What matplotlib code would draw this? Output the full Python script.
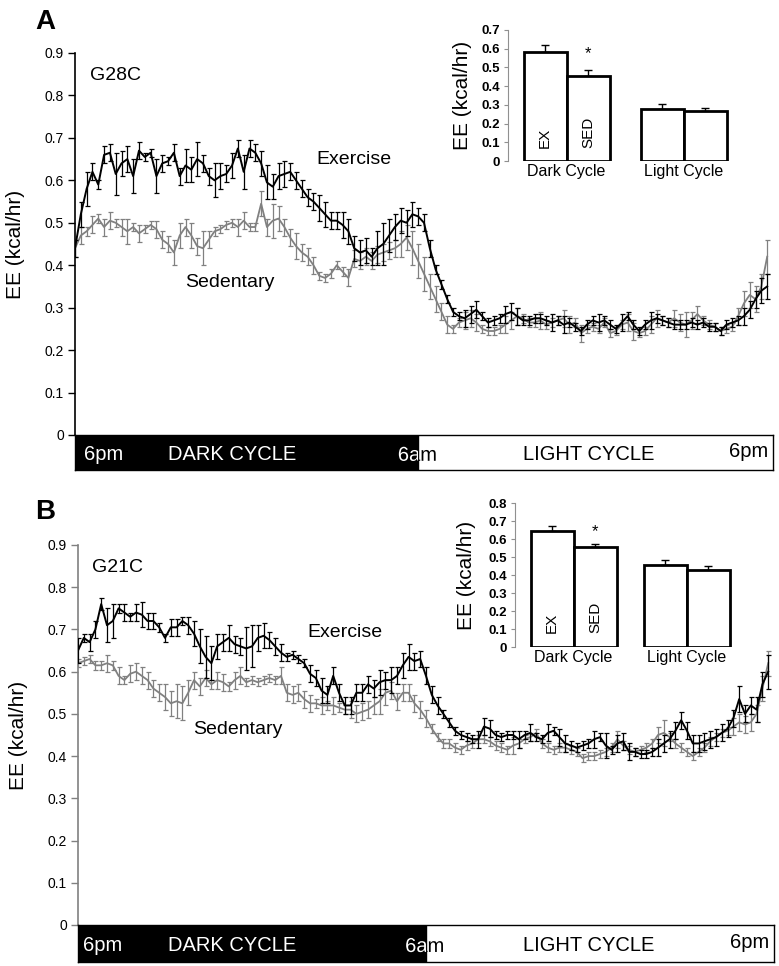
import matplotlib
matplotlib.use("Agg")
import matplotlib.pyplot as plt
from matplotlib.patches import Rectangle
import matplotlib.patheffects as pe

plt.rcParams['font.family'] = ['Liberation Sans', 'DejaVu Sans']

# ---------------- data ----------------
hours = [i * 0.2 for i in range(120)]  # 6pm -> 6pm, 12-min bins

ex_A = [0.44,0.52,0.58,0.62,0.59,0.66,0.665,0.615,0.64,0.65,
        0.61,0.67,0.655,0.665,0.61,0.64,0.645,0.665,0.61,0.635,
        0.625,0.65,0.64,0.61,0.60,0.61,0.615,0.635,0.675,0.62,
        0.675,0.665,0.64,0.595,0.585,0.61,0.615,0.62,0.60,0.58,
        0.56,0.55,0.535,0.52,0.505,0.505,0.495,0.48,0.44,0.43,
        0.435,0.42,0.44,0.45,0.47,0.49,0.505,0.50,0.52,0.515,
        0.50,0.44,0.39,0.355,0.32,0.29,0.28,0.275,0.285,0.295,
        0.28,0.265,0.27,0.275,0.285,0.29,0.28,0.27,0.27,0.275,
        0.275,0.27,0.265,0.27,0.26,0.265,0.255,0.245,0.26,0.27,
        0.265,0.27,0.26,0.25,0.265,0.28,0.26,0.245,0.26,0.27,
        0.275,0.27,0.265,0.26,0.26,0.26,0.265,0.26,0.265,0.255,
        0.255,0.245,0.26,0.265,0.27,0.28,0.295,0.32,0.34,0.35]
ex_A_err = [0.02,0.03,0.04,0.02,0.01,0.02,0.02,0.05,0.03,0.03,
            0.04,0.02,0.01,0.01,0.04,0.02,0.01,0.02,0.02,0.04,
            0.03,0.04,0.02,0.02,0.04,0.03,0.02,0.03,0.02,0.04,
            0.02,0.02,0.03,0.04,0.03,0.03,0.03,0.02,0.02,0.02,
            0.02,0.02,0.03,0.03,0.02,0.02,0.03,0.03,0.03,0.03,
            0.03,0.02,0.04,0.05,0.04,0.03,0.03,0.03,0.03,0.02,
            0.02,0.02,0.01,0.01,0.01,0.01,0.01,0.02,0.02,0.02,
            0.01,0.01,0.01,0.01,0.02,0.02,0.02,0.01,0.01,0.01,
            0.01,0.01,0.02,0.01,0.02,0.01,0.01,0.01,0.01,0.01,
            0.02,0.01,0.01,0.01,0.02,0.01,0.01,0.01,0.01,0.02,
            0.01,0.01,0.01,0.01,0.01,0.01,0.01,0.01,0.01,0.01,
            0.01,0.01,0.01,0.01,0.01,0.02,0.02,0.02,0.03,0.03]
sed_A = [0.44,0.47,0.48,0.495,0.51,0.49,0.505,0.50,0.49,0.48,
         0.49,0.475,0.485,0.495,0.485,0.46,0.45,0.43,0.47,0.49,
         0.47,0.445,0.44,0.46,0.48,0.485,0.495,0.50,0.49,0.505,
         0.49,0.49,0.545,0.49,0.505,0.51,0.49,0.465,0.445,0.43,
         0.42,0.40,0.375,0.37,0.38,0.40,0.385,0.37,0.415,0.41,
         0.42,0.41,0.425,0.43,0.435,0.44,0.45,0.465,0.44,0.41,
         0.38,0.35,0.32,0.29,0.26,0.25,0.265,0.27,0.275,0.265,
         0.25,0.245,0.245,0.25,0.26,0.27,0.28,0.275,0.265,0.265,
         0.27,0.26,0.265,0.27,0.275,0.26,0.265,0.24,0.25,0.255,
         0.25,0.265,0.24,0.245,0.26,0.265,0.245,0.24,0.245,0.26,
         0.275,0.27,0.265,0.275,0.265,0.26,0.27,0.285,0.27,0.26,
         0.255,0.245,0.25,0.255,0.28,0.31,0.33,0.32,0.35,0.42]
sed_A_err = [0.02,0.02,0.01,0.02,0.01,0.02,0.02,0.01,0.02,0.03,
             0.01,0.02,0.01,0.01,0.02,0.02,0.02,0.03,0.03,0.02,
             0.03,0.02,0.04,0.02,0.01,0.01,0.01,0.01,0.02,0.02,
             0.01,0.01,0.03,0.02,0.04,0.03,0.02,0.02,0.03,0.02,
             0.02,0.02,0.01,0.01,0.01,0.01,0.01,0.02,0.02,0.02,
             0.02,0.02,0.02,0.02,0.02,0.02,0.03,0.03,0.04,0.04,
             0.04,0.03,0.03,0.02,0.02,0.01,0.01,0.02,0.02,0.02,
             0.01,0.01,0.01,0.01,0.02,0.02,0.02,0.01,0.01,0.01,
             0.02,0.01,0.01,0.01,0.02,0.02,0.01,0.02,0.01,0.01,
             0.01,0.01,0.01,0.01,0.01,0.02,0.02,0.01,0.01,0.02,
             0.02,0.01,0.01,0.02,0.02,0.03,0.02,0.02,0.01,0.01,
             0.01,0.01,0.01,0.01,0.02,0.03,0.03,0.03,0.03,0.04]

ex_B = [0.65,0.68,0.67,0.70,0.76,0.71,0.72,0.75,0.74,0.73,
        0.74,0.735,0.72,0.72,0.705,0.68,0.705,0.705,0.72,0.71,
        0.69,0.66,0.635,0.62,0.66,0.67,0.68,0.665,0.66,0.655,
        0.66,0.68,0.685,0.675,0.66,0.645,0.635,0.64,0.63,0.62,
        0.595,0.585,0.555,0.545,0.59,0.55,0.52,0.52,0.55,0.55,
        0.57,0.56,0.575,0.58,0.58,0.59,0.615,0.635,0.625,0.63,
        0.59,0.545,0.52,0.50,0.48,0.46,0.45,0.445,0.44,0.44,
        0.47,0.465,0.45,0.445,0.45,0.45,0.44,0.45,0.455,0.445,
        0.44,0.455,0.46,0.445,0.43,0.425,0.42,0.425,0.43,0.44,
        0.445,0.425,0.415,0.43,0.435,0.41,0.41,0.405,0.405,0.41,
        0.42,0.43,0.44,0.46,0.485,0.46,0.43,0.43,0.435,0.44,
        0.445,0.455,0.465,0.49,0.535,0.50,0.52,0.51,0.57,0.60]
ex_B_err = [0.03,0.01,0.02,0.02,0.015,0.04,0.04,0.01,0.02,0.01,
            0.02,0.03,0.02,0.02,0.01,0.01,0.02,0.02,0.01,0.02,
            0.03,0.04,0.05,0.04,0.03,0.02,0.03,0.02,0.02,0.05,
            0.05,0.03,0.03,0.02,0.02,0.02,0.01,0.01,0.01,0.01,
            0.02,0.02,0.03,0.02,0.02,0.02,0.02,0.02,0.02,0.02,
            0.02,0.02,0.03,0.02,0.03,0.02,0.03,0.03,0.02,0.02,
            0.02,0.02,0.02,0.01,0.01,0.01,0.01,0.01,0.01,0.02,
            0.02,0.02,0.01,0.01,0.01,0.01,0.02,0.01,0.02,0.01,
            0.01,0.02,0.01,0.02,0.02,0.01,0.01,0.01,0.01,0.02,
            0.01,0.03,0.01,0.02,0.02,0.02,0.01,0.01,0.01,0.01,
            0.02,0.02,0.02,0.02,0.02,0.02,0.02,0.02,0.02,0.02,
            0.02,0.02,0.02,0.02,0.03,0.02,0.02,0.03,0.03,0.04]
sed_B = [0.62,0.625,0.63,0.615,0.615,0.62,0.615,0.59,0.58,0.595,
         0.60,0.59,0.58,0.56,0.55,0.54,0.525,0.53,0.525,0.55,
         0.58,0.565,0.585,0.57,0.58,0.575,0.565,0.58,0.59,0.575,
         0.58,0.575,0.58,0.585,0.58,0.59,0.55,0.545,0.55,0.535,
         0.525,0.525,0.52,0.52,0.52,0.515,0.51,0.51,0.50,0.505,
         0.51,0.52,0.53,0.55,0.555,0.53,0.55,0.55,0.525,0.51,
         0.49,0.465,0.445,0.43,0.43,0.42,0.415,0.425,0.43,0.44,
         0.44,0.435,0.425,0.42,0.415,0.425,0.43,0.44,0.445,0.455,
         0.43,0.42,0.415,0.42,0.42,0.415,0.41,0.395,0.40,0.40,
         0.405,0.41,0.42,0.44,0.425,0.415,0.41,0.415,0.42,0.43,
         0.45,0.455,0.445,0.43,0.42,0.41,0.40,0.41,0.42,0.435,
         0.445,0.455,0.46,0.47,0.48,0.475,0.48,0.50,0.56,0.62]
sed_B_err = [0.01,0.01,0.01,0.01,0.01,0.02,0.01,0.02,0.01,0.02,
             0.02,0.02,0.02,0.02,0.02,0.03,0.03,0.04,0.04,0.03,
             0.02,0.02,0.02,0.01,0.02,0.02,0.01,0.02,0.02,0.01,
             0.01,0.01,0.01,0.01,0.01,0.02,0.02,0.02,0.02,0.02,
             0.02,0.01,0.02,0.01,0.02,0.01,0.01,0.02,0.02,0.02,
             0.02,0.02,0.03,0.03,0.02,0.02,0.02,0.02,0.02,0.02,
             0.02,0.01,0.01,0.01,0.01,0.01,0.01,0.01,0.01,0.01,
             0.01,0.01,0.01,0.01,0.01,0.02,0.01,0.01,0.01,0.01,
             0.01,0.01,0.01,0.01,0.01,0.01,0.01,0.01,0.01,0.01,
             0.01,0.01,0.01,0.02,0.01,0.01,0.01,0.01,0.01,0.01,
             0.02,0.03,0.01,0.01,0.01,0.01,0.01,0.01,0.01,0.01,
             0.01,0.01,0.01,0.02,0.02,0.02,0.02,0.02,0.03,0.03]

# inset bar data (EX dark, SED dark, EX light, SED light)
bar_labels = ['EX', 'SED']
cycle_labels = ['Dark Cycle', 'Light Cycle']
bars_A = [0.58, 0.455, 0.28, 0.268]
bars_A_err = [0.04, 0.03, 0.025, 0.015]
bars_B = [0.645, 0.555, 0.455, 0.43]
bars_B_err = [0.025, 0.02, 0.03, 0.02]

ytick_main = [0, 0.1, 0.2, 0.3, 0.4, 0.5, 0.6, 0.7, 0.8, 0.9]

W, H = 779, 966
fig = plt.figure(figsize=(W / 100, H / 100), dpi=100)


def fr(x0, y0, x1, y1):
    """pixel box (top-left origin) -> figure fraction rect"""
    return [x0 / W, 1 - y1 / H, (x1 - x0) / W, (y1 - y0) / H]


def main_panel(box, band_box, dark_end, spine_col, ex, ex_err, sed, sed_err,
               gname, gpos, expos, sedpos, band_txt):
    ax = fig.add_axes(fr(*box))
    ax.errorbar(hours, sed, yerr=sed_err, color='#808080', lw=1.3,
                elinewidth=0.9, capsize=1.8, capthick=0.9, zorder=2)
    ax.errorbar(hours, ex, yerr=ex_err, color='black', lw=1.4,
                elinewidth=0.9, capsize=1.8, capthick=0.9, zorder=3)
    ax.set_xlim(0, 24)
    ax.set_ylim(0, 0.9)
    ax.set_yticks(ytick_main)
    ax.set_yticklabels(['0' if v == 0 else f'{v:g}' for v in ytick_main])
    ax.set_xticks([])
    for s in ['top', 'right', 'bottom']:
        ax.spines[s].set_visible(False)
    ax.spines['left'].set_color(spine_col)
    ax.spines['left'].set_linewidth(1.2)
    ax.tick_params(axis='y', direction='out', length=5, width=1,
                   color=spine_col, labelsize=10, pad=3)
    ax.set_ylabel('EE (kcal/hr)', fontsize=15, labelpad=14)
    ax.text(gpos[0], gpos[1], gname, fontsize=14, va='center', ha='left')
    ax.text(expos[0], expos[1], 'Exercise', fontsize=14, va='center', ha='left')
    ax.text(sedpos[0], sedpos[1], 'Sedentary', fontsize=14, va='center', ha='left')

    bx = fig.add_axes(fr(*band_box))
    bx.set_xlim(0, 24)
    bx.set_ylim(0, 1)
    bx.set_xticks([])
    bx.set_yticks([])
    for s in bx.spines.values():
        s.set_color('black')
        s.set_linewidth(1.0)
    dark = Rectangle((0, 0), dark_end, 1, color='black', zorder=1)
    light = Rectangle((dark_end, 0), 24 - dark_end, 1, facecolor='white',
                      edgecolor='none', zorder=0)
    bx.add_patch(light)
    bx.add_patch(dark)
    fs = 14.5
    bx.text(band_txt[0], 0.45, '6pm', color='white', fontsize=fs,
            va='center', ha='left', zorder=3)
    bx.text(band_txt[1], 0.45, 'DARK CYCLE', color='white', fontsize=fs,
            va='center', ha='center', zorder=3)
    # "6am" straddles the dark/light boundary: white over black, black over white
    t1 = bx.text(band_txt[2], 0.42, '6am', color='white', fontsize=fs,
                 va='center', ha='left', zorder=3, clip_on=True,
                 path_effects=[pe.Normal()])
    t1.set_clip_path(dark)
    t2 = bx.text(band_txt[2], 0.42, '6am', color='black', fontsize=fs,
                 va='center', ha='left', zorder=3, clip_on=True,
                 path_effects=[pe.Normal()])
    t2.set_clip_path(light)
    bx.text(band_txt[3], 0.45, 'LIGHT CYCLE', color='black', fontsize=fs,
            va='center', ha='center', zorder=3)
    bx.text(band_txt[4], 0.52, '6pm', color='black', fontsize=fs,
            va='center', ha='right', zorder=3)
    return ax


def inset(box, vals, errs, ymax, lxpos, ylab_x, star_y, cyc_y):
    ax = fig.add_axes(fr(*box))
    xs = [0, 1, lxpos, lxpos + 1]
    ax.bar(xs, vals, width=1.0, color='white', edgecolor='black',
           linewidth=2.0, zorder=2)
    ax.errorbar(xs, [v + e / 2 for v, e in zip(vals, errs)],
                yerr=[[e / 2 for e in errs], [e / 2 for e in errs]],
                fmt='none', ecolor='black', elinewidth=1.0, capsize=3,
                capthick=1.0, zorder=1)
    ax.set_xlim(-0.86, lxpos + 1.55)
    ax.set_ylim(0, ymax)
    ticks = [round(0.1 * k, 1) for k in range(int(round(ymax * 10)) + 1)]
    ax.set_yticks(ticks)
    ax.set_yticklabels(['0' if v == 0 else f'{v:g}' for v in ticks])
    ax.set_xticks([])
    for s in ['top', 'right', 'bottom']:
        ax.spines[s].set_visible(False)
    ax.spines['left'].set_color('#909090')
    ax.tick_params(axis='y', direction='out', length=3, color='#909090',
                   labelsize=9.5, pad=3)
    for tl in ax.get_yticklabels():
        tl.set_fontweight('bold')
    ax.text(0, 0.07 * ymax / 0.7, bar_labels[0], rotation=90, fontsize=11,
            ha='center', va='bottom', zorder=3)
    ax.text(1, 0.07 * ymax / 0.7, bar_labels[1], rotation=90, fontsize=11,
            ha='center', va='bottom', zorder=3)
    ax.text(1, star_y, '*', fontsize=12, ha='center', va='center')
    ax.text(0.5, cyc_y, cycle_labels[0], fontsize=11.5, ha='center',
            va='top', clip_on=False)
    ax.text(lxpos + 0.5, cyc_y, cycle_labels[1], fontsize=11.5, ha='center',
            va='top', clip_on=False)
    fig.text(ylab_x / W, 1 - (box[1] + box[3]) / 2 / H, 'EE (kcal/hr)',
             rotation=90, fontsize=15, ha='center', va='center')
    return ax


# Panel A
main_panel((75, 53, 773, 435), (75, 435, 773, 470), 11.8, 'black',
           ex_A, ex_A_err, sed_A, sed_A_err, 'G28C',
           (0.52, 0.848), (8.3, 0.648), (3.78, 0.36),
           (0.3, 5.4, 11.1, 17.65, 23.83))
inset((508, 30, 729, 161), bars_A, bars_A_err, 0.7, 2.72, 462, 0.575, -0.015)
fig.text(35 / W, 1 - 22 / H, 'A', fontsize=20, fontweight='bold',
         ha='left', va='center')

# Panel B
main_panel((78, 545, 774, 925), (78, 925, 774, 962), 12.0, '#808080',
           ex_B, ex_B_err, sed_B, sed_B_err, 'G21C',
           (0.48, 0.846), (7.9, 0.692), (3.97, 0.462),
           (0.17, 5.3, 11.28, 17.6, 23.83))
inset((515, 503, 732, 647), bars_B, bars_B_err, 0.8, 2.62, 467, 0.64, -0.015)
fig.text(35 / W, 1 - 512 / H, 'B', fontsize=20, fontweight='bold',
         ha='left', va='center')

fig.savefig('out.png', dpi=100)
